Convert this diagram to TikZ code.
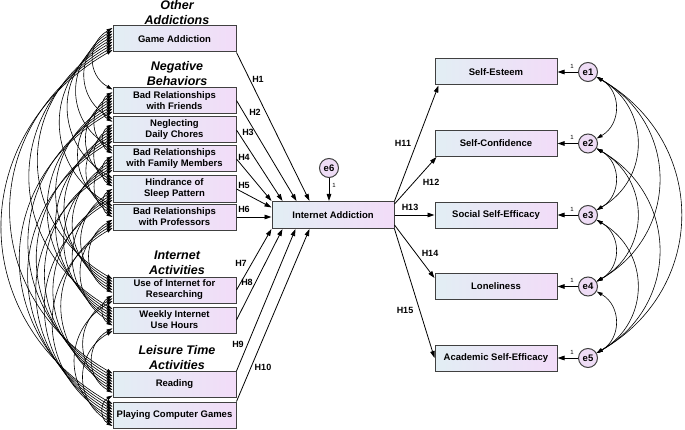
\documentclass[tikz,border=0pt]{standalone}
\usepackage{fontspec}
\setmainfont{Liberation Sans}
\usetikzlibrary{arrows.meta}

\definecolor{boxLeft}{RGB}{226,238,244}
\definecolor{boxRight}{RGB}{242,220,248}
\definecolor{boxLine}{gray}{0.25}
\definecolor{errFill}{RGB}{238,220,245}

\begin{document}
\begin{tikzpicture}[x=1pt,y=1pt,
  every node/.style={font=\fontsize{9.5}{11}\selectfont\bfseries},
  varbox/.style={draw=boxLine,line width=1pt,left color=boxLeft,right color=boxRight,
    minimum width=123pt,minimum height=26pt,inner sep=1pt,align=center},
  errnode/.style={circle,draw=boxLine,line width=1pt,fill=errFill,minimum size=19pt,inner sep=0pt},
  grouplabel/.style={font=\fontsize{12.5}{15}\selectfont\bfseries\itshape,align=center,inner sep=0pt},
  hlabel/.style={font=\fontsize{9}{10}\selectfont\bfseries,inner sep=0pt},
  onelabel/.style={font=\fontsize{6}{7}\selectfont,inner sep=0pt},
  regline/.style={-{Triangle[length=7pt,width=4.5pt]},line width=0.8pt},
  cov/.style={{Triangle[length=6pt,width=3.5pt]}-{Triangle[length=6pt,width=3.5pt]},line width=0.6pt}]
\path[use as bounding box,fill=white] (0,0) rectangle (685,429);

% exogenous variables
\node[grouplabel] (goa) at (177,416.5) {Other\\Addictions};
\node[varbox] (ga) at (174.5,390) {Game Addiction};
\node[grouplabel] (gnb) at (177,355) {Negative\\Behaviors};
\node[varbox] (brf) at (174.5,328.5) {Bad Relationships\\with Friends};
\node[varbox] (ndc) at (174.5,299) {Neglecting\\Daily Chores};
\node[varbox] (brfm) at (174.5,270) {Bad Relationships\\with Family Members};
\node[varbox] (hsp) at (174.5,240) {Hindrance of\\Sleep Pattern};
\node[varbox] (brp) at (174.5,212) {Bad Relationships\\with Professors};
\node[grouplabel] (gia) at (177,166.5) {Internet\\Activities};
\node[varbox] (uir) at (174.5,139) {Use of Internet for\\Researching};
\node[varbox] (wiu) at (174.5,109) {Weekly Internet\\Use Hours};
\node[grouplabel] (gla) at (177,71.5) {Leisure Time\\Activities};
\node[varbox] (rd) at (174.5,44.5) {Reading};
\node[varbox] (pcg) at (174.5,14) {Playing Computer Games};

% mediator
\node[varbox,minimum width=122pt,minimum height=27pt] (ia) at (333,214) {Internet Addiction};
\node[errnode] (e6) at (329,261) {e6};
\draw[regline] (e6) -- (e6 |- ia.north);
\node[onelabel] (one6) at (334,244) {1};

% outcomes
\node[varbox,minimum width=122pt] (se) at (496,357) {Self-Esteem};
\node[varbox,minimum width=122pt] (scf) at (496,285.5) {Self-Confidence};
\node[varbox,minimum width=122pt] (sse) at (496,214) {Social Self-Efficacy};
\node[varbox,minimum width=122pt] (lon) at (496,142.5) {Loneliness};
\node[varbox,minimum width=122pt] (ase) at (496,71) {Academic Self-Efficacy};

\foreach \e/\v/\y in {e1/se/357,e2/scf/285.5,e3/sse/214,e4/lon/142.5,e5/ase/71}{
  \node[errnode] (\e) at (588,\y) {\e};
  \draw[regline] (\e) -- (\v);
  \node[onelabel] (one\e) at (572,\y+6) {1};
}

% hypotheses
\draw[regline] (ga.south east) -- ([xshift=38pt]ia.north west);
\draw[regline] (brf.east) -- ([xshift=25pt]ia.north west);
\draw[regline] (ndc.east) -- ([xshift=11pt]ia.north west);
\draw[regline] (brfm.east) -- (ia.north west);
\draw[regline] (hsp.east) -- ([yshift=-6.5pt]ia.north west);
\draw[regline] (brp.east) -- (brp.east -| ia.west);
\draw[regline] (uir.east) -- (ia.south west);
\draw[regline] (wiu.east) -- ([xshift=11pt]ia.south west);
\draw[regline] (rd.north east) -- ([xshift=24pt]ia.south west);
\draw[regline] (pcg.north east) -- ([xshift=38pt]ia.south west);
\draw[regline] (ia.north east) -- ([xshift=4pt]se.south west);
\draw[regline] ([yshift=-3pt]ia.north east) -- ([xshift=2pt]scf.south west);
\draw[regline] (ia.east) -- (sse.west);
\draw[regline] ([yshift=4pt]ia.south east) -- ([yshift=-5pt]lon.north west);
\draw[regline] (ia.south east) -- (ase.west);

\foreach \n/\x/\y in {1/258/350,2/255/317,3/248/297,4/244/272,5/244/244,6/244/220,
  7/241/166,8/247/147,9/238/85,10/263/62,11/403/286,12/431/247,13/410/222,14/430/176,15/405/119}
  \node[hlabel] (lh\n) at (\x,\y) {H\n};

% covariances
\foreach \a [count=\i] in {ga,brf,ndc,brfm,hsp,brp,uir,wiu,rd,pcg}{
  \foreach \b [count=\j] in {ga,brf,ndc,brfm,hsp,brp,uir,wiu,rd,pcg}{
    \ifnum\j>\i\relax
      \pgfmathsetmacro\ya{11-(\j-2)*2.75}
      \pgfmathsetmacro\yb{11-(\i-1)*2.75}
      \draw[cov] ([yshift=\ya pt]\a.west) to[bend right=60,looseness=1.23] ([yshift=\yb pt]\b.west);
    \fi
  }
}
\foreach \a [count=\i] in {e1,e2,e3,e4,e5}{
  \foreach \b [count=\j] in {e1,e2,e3,e4,e5}{
    \ifnum\j>\i\relax
      \draw[cov] (\a) to[bend left=60,looseness=1.2] (\b);
    \fi
  }
}
\end{tikzpicture}
\end{document}
